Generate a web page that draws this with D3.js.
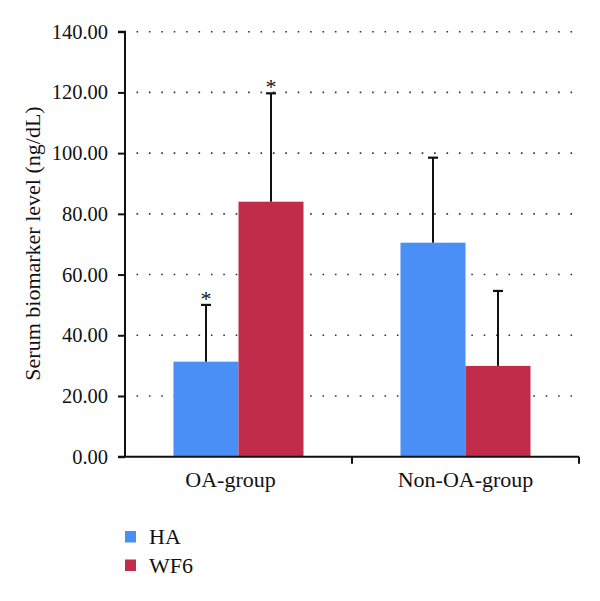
<!DOCTYPE html>
<html><head><meta charset="utf-8">
<script src="https://cdn.jsdelivr.net/npm/d3@7"></script>
<style>body{margin:0;background:#fff}</style>
</head><body>
<svg id="c" width="600" height="601"></svg>
<script>
const categories = ["OA-group", "Non-OA-group"];
const series = ["HA", "WF6"];
const haValues = [31.3, 70.5];
const wf6Values = [84.0, 29.9];
const haErrors = [18.7, 28.0];
const wf6Errors = [35.7, 24.7];
const haSignif = [true, false];
const wf6Signif = [true, false];
const yTicks = [0, 20, 40, 60, 80, 100, 120, 140];
const yLabel = "Serum biomarker level (ng/dL)";

const colors = {HA: "#4a8ff5", WF6: "#c22c4b"};
const data = categories.map((c, i) => ({
  cat: c,
  vals: [
    {s: "HA", v: haValues[i], e: haErrors[i], sig: haSignif[i]},
    {s: "WF6", v: wf6Values[i], e: wf6Errors[i], sig: wf6Signif[i]}
  ]
}));

const svg = d3.select("#c");
const serif = "'Liberation Serif','Times New Roman',serif";
const mLeft = 125, mRight = 579, mTop = 31.7, mBottom = 456.7;

const x0 = d3.scaleBand().domain(categories).range([mLeft, mRight]).padding(0);
const x1 = d3.scaleBand().domain(series).range([0, x0.bandwidth()]).paddingInner(0).paddingOuter(0.746);
const y = d3.scaleLinear().domain([0, 140]).range([mBottom, mTop]);

// gridlines
svg.append("g").selectAll("line").data(yTicks.filter(t => t > 0)).join("line")
  .attr("x1", mLeft + 11.5).attr("x2", mRight)
  .attr("y1", d => y(d)).attr("y2", d => y(d))
  .attr("stroke", "#333").attr("stroke-width", 1.6)
  .attr("stroke-dasharray", "1.6,10.8");

// bars
const g = svg.append("g").selectAll("g").data(data).join("g")
  .attr("transform", d => `translate(${x0(d.cat)},0)`);
g.selectAll("rect").data(d => d.vals).join("rect")
  .attr("x", d => x1(d.s)).attr("width", x1.bandwidth())
  .attr("y", d => y(d.v)).attr("height", d => y(0) - y(d.v))
  .attr("fill", d => colors[d.s]);

// error bars
const eb = g.selectAll("g.err").data(d => d.vals).join("g").attr("class", "err");
eb.append("line")
  .attr("x1", d => x1(d.s) + x1.bandwidth() / 2).attr("x2", d => x1(d.s) + x1.bandwidth() / 2)
  .attr("y1", d => y(d.v)).attr("y2", d => y(d.v + d.e))
  .attr("stroke", "#111").attr("stroke-width", 2);
eb.append("line")
  .attr("x1", d => x1(d.s) + x1.bandwidth() / 2 - 5).attr("x2", d => x1(d.s) + x1.bandwidth() / 2 + 5)
  .attr("y1", d => y(d.v + d.e)).attr("y2", d => y(d.v + d.e))
  .attr("stroke", "#111").attr("stroke-width", 2.2);
eb.filter(d => d.sig).append("text")
  .attr("x", d => x1(d.s) + x1.bandwidth() / 2).attr("y", d => y(d.v + d.e) + 1)
  .attr("text-anchor", "middle").attr("font-family", serif).attr("font-size", 22)
  .attr("fill", "#111").text("*");

// y axis
const yAxis = svg.append("g").attr("transform", `translate(${mLeft},0)`)
  .call(d3.axisLeft(y).tickValues(yTicks).tickFormat(d3.format(".2f")).tickSize(7).tickPadding(10));
yAxis.select(".domain").attr("stroke", "#111").attr("stroke-width", 2).attr("d", `M-7,${mTop}H0V${mBottom}`);
yAxis.selectAll(".tick line").attr("stroke", "#111").attr("stroke-width", 2);
yAxis.selectAll("text").attr("font-family", serif).attr("font-size", 20.5).attr("fill", "#111");

// x axis
const xAxisG = svg.append("g").attr("transform", `translate(0,${mBottom})`);
xAxisG.append("line").attr("x1", mLeft - 7).attr("x2", mRight).attr("y1", 0).attr("y2", 0)
  .attr("stroke", "#111").attr("stroke-width", 2);
xAxisG.selectAll("line.t").data(categories.slice(1).map(c => x0(c)).concat([mRight])).join("line")
  .attr("class", "t").attr("x1", d => d).attr("x2", d => d).attr("y1", 0).attr("y2", 7)
  .attr("stroke", "#111").attr("stroke-width", 2);
xAxisG.selectAll("text").data(categories).join("text")
  .attr("x", d => x0(d) + x0.bandwidth() / 2 - (d === categories[0] ? 8 : 0)).attr("y", 30)
  .attr("text-anchor", "middle").attr("font-family", serif).attr("font-size", 22)
  .attr("fill", "#111").text(d => d);

// y label
svg.append("text").attr("transform", `translate(40,${(107 + 380) / 2}) rotate(-90)`)
  .attr("text-anchor", "middle").attr("font-family", serif).attr("font-size", 22)
  .attr("fill", "#111").text(yLabel);

// legend
const lg = svg.append("g").selectAll("g").data(series).join("g")
  .attr("transform", (d, i) => `translate(125,${531 + i * 28.5})`);
lg.append("rect").attr("width", 11).attr("height", 11.5).attr("fill", d => colors[d]);
lg.append("text").attr("x", 24).attr("y", 13).attr("font-family", serif).attr("font-size", 22)
  .attr("fill", "#111").text(d => d);
</script>
</body></html>
